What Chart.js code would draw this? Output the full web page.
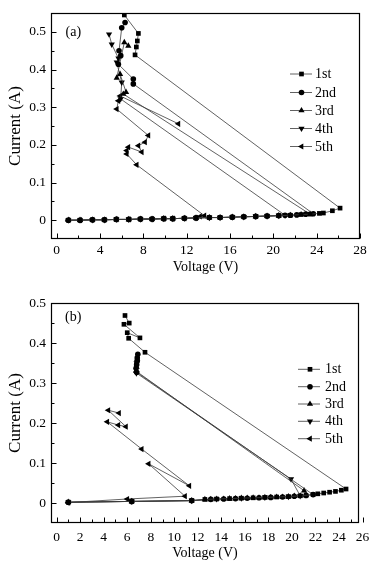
<!DOCTYPE html>
<html><head><meta charset="utf-8">
<script src="https://cdn.jsdelivr.net/npm/chart.js@4.4.1/dist/chart.umd.min.js"></script>
<style>
html,body{margin:0;padding:0;background:#fff;}
#ca{position:absolute;left:0;top:0;}
#cb{position:absolute;left:0;top:290px;}
</style></head><body>
<canvas id="ca" width="379" height="290"></canvas>
<canvas id="cb" width="379" height="279"></canvas>
<script>
// ---------- DATA ----------
const seriesLabels = ['1st', '2nd', '3rd', '4th', '5th'];

// panel (a)
const a1x = [1.07,2.15,3.29,4.40,5.50,6.65,7.72,8.80,9.88,10.71,11.78,12.86,14.09,15.08,16.21,17.27,18.37,19.42,20.50,21.57,22.56,23.39,24.25,24.62,25.45,26.16,7.23,7.35,7.44,7.54,6.24];
const a1y = [0.000,0.000,0.001,0.001,0.002,0.002,0.003,0.003,0.004,0.004,0.005,0.006,0.007,0.007,0.008,0.009,0.010,0.011,0.012,0.013,0.015,0.016,0.018,0.019,0.025,0.032,0.439,0.460,0.476,0.496,0.545];
const a2x = [1.07,2.15,3.29,4.40,5.50,6.65,7.72,8.80,9.88,10.71,11.78,12.86,14.09,15.08,16.21,17.27,18.37,19.42,20.50,21.08,21.57,22.16,22.99,23.69,7.07,7.07,5.69,5.91,5.75,6.00,6.31];
const a2y = [0.000,0.000,0.001,0.001,0.002,0.002,0.003,0.003,0.004,0.004,0.005,0.006,0.007,0.007,0.008,0.009,0.010,0.011,0.012,0.013,0.013,0.014,0.016,0.017,0.362,0.375,0.414,0.437,0.450,0.511,0.525];
const a3x = [1.07,2.15,3.29,4.40,5.50,6.65,7.72,8.80,9.88,10.71,11.78,12.86,14.09,15.08,16.21,17.27,18.37,19.42,20.50,21.57,22.56,23.39,6.15,6.40,5.85,5.54,6.24,6.61];
const a3y = [0.000,0.000,0.001,0.001,0.002,0.002,0.003,0.003,0.004,0.004,0.005,0.006,0.007,0.007,0.008,0.009,0.010,0.011,0.012,0.013,0.015,0.016,0.335,0.340,0.388,0.378,0.472,0.463];
const a4x = [1.07,2.15,3.29,4.40,5.50,6.65,7.72,8.80,9.88,10.71,11.78,12.86,14.09,15.08,16.21,17.27,18.37,19.42,20.50,21.08,5.90,6.00,5.54,5.70,5.08,4.83];
const a4y = [0.000,0.000,0.001,0.001,0.002,0.002,0.003,0.003,0.004,0.004,0.005,0.006,0.007,0.007,0.008,0.009,0.010,0.011,0.012,0.013,0.322,0.366,0.419,0.430,0.467,0.494];
const a5x = [1.07,2.15,3.29,4.40,5.50,6.65,7.72,8.80,9.88,10.71,11.78,12.86,13.23,13.63,7.38,6.46,6.46,6.61,7.85,7.54,8.15,8.46,5.54,5.69,5.85,11.23];
const a5y = [0.000,0.000,0.001,0.001,0.002,0.002,0.003,0.003,0.004,0.004,0.005,0.006,0.010,0.012,0.147,0.176,0.185,0.194,0.181,0.198,0.207,0.225,0.295,0.317,0.330,0.256];
const aXTicks = [0,4,8,12,16,20,24,28];
const aXMinor = [2,6,10,14,18,22,26];
const aYTicks = [0,0.1,0.2,0.3,0.4,0.5];
const aYMinor = [0.05,0.15,0.25,0.35,0.45];

// panel (b)
const b1x = [0.99,6.38,11.48,12.6,13.6,14.7,15.7,16.7,17.7,18.7,19.7,20.7,21.8,22.2,22.7,23.2,23.7,24.2,24.6,7.51,6.12,6.00,7.08,5.72,6.17,5.81];
const b1y = [0.002,0.004,0.006,0.009,0.010,0.011,0.012,0.013,0.014,0.015,0.016,0.018,0.021,0.023,0.025,0.027,0.029,0.032,0.035,0.377,0.412,0.426,0.413,0.447,0.450,0.469];
const b2x = [0.99,6.38,11.48,13.1,14.2,15.2,16.2,17.2,18.2,19.2,20.2,21.2,21.8,6.80,6.75,6.80,6.85,6.85,6.90];
const b2y = [0.002,0.004,0.006,0.009,0.010,0.011,0.012,0.013,0.014,0.015,0.017,0.019,0.021,0.327,0.337,0.346,0.355,0.363,0.372];
const b3x = [0.99,6.38,11.48,12.6,13.1,13.6,14.2,14.7,15.2,15.7,16.2,16.7,17.2,17.7,18.2,18.7,19.2,19.7,20.2,20.7,21.2,21.03,6.75,6.80,6.85];
const b3y = [0.002,0.004,0.006,0.009,0.009,0.010,0.010,0.011,0.011,0.012,0.012,0.013,0.013,0.014,0.014,0.015,0.015,0.016,0.017,0.018,0.019,0.031,0.330,0.340,0.360];
const b4x = [0.99,6.38,11.48,13.6,15.7,17.7,19.7,20.7,19.92,6.78,6.80];
const b4y = [0.002,0.004,0.006,0.010,0.012,0.014,0.016,0.018,0.060,0.325,0.350];
const b5x = [0.99,6.00,10.91,7.82,11.28,7.23,4.30,5.24,5.89,4.39,5.30];
const b5y = [0.001,0.010,0.017,0.098,0.043,0.135,0.203,0.195,0.191,0.232,0.225];
const bXTicks = [0,2,4,6,8,10,12,14,16,18,20,22,24,26];
const bXMinor = [1,3,5,7,9,11,13,15,17,19,21,23,25];
const bYTicks = [0,0.1,0.2,0.3,0.4,0.5];
const bYMinor = [0.05,0.15,0.25,0.35,0.45];

// ---------- STYLE ----------
const FONT = "'Liberation Serif', 'Times New Roman', serif";
const markers = [
  {style:'rect', rot:0, r:3.3},
  {style:'circle', rot:0, r:2.8},
  {style:'triangle', rot:0, r:3.6},
  {style:'triangle', rot:180, r:3.6},
  {style:'triangle', rot:-90, r:3.6}
];
const LINE_COLOR = '#3a3a3a';

function pts(xs, ys){ return xs.map((x,i)=>({x:x, y:ys[i]})); }
function makeDatasets(list){
  return list.map((d,i)=>({
    label: seriesLabels[i],
    data: pts(d[0], d[1]),
    showLine: true,
    borderColor: LINE_COLOR,
    borderWidth: 0.8,
    tension: 0,
    pointStyle: markers[i].style,
    rotation: markers[i].rot,
    pointRotation: markers[i].rot,
    pointRadius: markers[i].r,
    pointBackgroundColor: '#000',
    pointBorderColor: '#000',
    pointBorderWidth: 0
  }));
}

function drawMarker(ctx, m, x, y){
  const r = m.r;
  ctx.beginPath();
  if (m.style === 'circle') {
    ctx.arc(x, y, r, 0, Math.PI*2);
  } else if (m.style === 'rect') {
    const s = r * Math.SQRT1_2;
    ctx.rect(x - s, y - s, 2*s, 2*s);
  } else {
    let rad = m.rot * Math.PI / 180;
    ctx.moveTo(x + Math.sin(rad)*r, y - Math.cos(rad)*r);
    rad += 2*Math.PI/3;
    ctx.lineTo(x + Math.sin(rad)*r, y - Math.cos(rad)*r);
    rad += 2*Math.PI/3;
    ctx.lineTo(x + Math.sin(rad)*r, y - Math.cos(rad)*r);
    ctx.closePath();
  }
  ctx.fill();
}

const framePlugin = {
  id: 'frameTicks',
  afterDraw(chart, args, o){
    const ctx = chart.ctx;
    const a = chart.chartArea;
    const xs = chart.scales.x, ys = chart.scales.y;
    const L = Math.round(a.left) + 0.5, R = Math.round(a.right) - 0.5;
    const T = Math.round(a.top) + 0.5, B = Math.round(a.bottom) - 0.5;
    ctx.save();
    ctx.strokeStyle = '#000';
    ctx.lineWidth = 1.2;
    ctx.strokeRect(L, T, R - L, B - T);
    ctx.lineWidth = 1;
    ctx.beginPath();
    o.xMajor.forEach(v=>{ const p = Math.round(xs.getPixelForValue(v))+0.5; ctx.moveTo(p, B); ctx.lineTo(p, B-5); });
    o.xMinor.forEach(v=>{ const p = Math.round(xs.getPixelForValue(v))+0.5; ctx.moveTo(p, B); ctx.lineTo(p, B-3); });
    o.yMajor.forEach(v=>{ const p = Math.round(ys.getPixelForValue(v))+0.5; ctx.moveTo(L, p); ctx.lineTo(L+5, p); });
    o.yMinor.forEach(v=>{ const p = Math.round(ys.getPixelForValue(v))+0.5; ctx.moveTo(L, p); ctx.lineTo(L+3, p); });
    ctx.stroke();
    // panel label
    ctx.fillStyle = '#000';
    ctx.font = '14px ' + FONT;
    ctx.textBaseline = 'middle';
    ctx.textAlign = 'left';
    ctx.fillText(o.panel, o.panelX, o.panelY);
    // legend
    chart.data.datasets.forEach((ds, i)=>{
      const y = o.legY[i];
      ctx.strokeStyle = LINE_COLOR;
      ctx.lineWidth = 0.8;
      ctx.beginPath();
      ctx.moveTo(o.legX0, y); ctx.lineTo(o.legX1, y);
      ctx.stroke();
      ctx.fillStyle = '#000';
      drawMarker(ctx, markers[i], o.legM, y);
      ctx.fillText(ds.label, o.legT, y + 0.5);
    });
    ctx.restore();
  }
};

function makeChart(id, datasets, cfg){
  return new Chart(document.getElementById(id), {
    type: 'scatter',
    data: { datasets: datasets },
    options: {
      responsive: false,
      animation: false,
      events: [],
      layout: { padding: { left: 0, right: cfg.padRight, top: cfg.padTop, bottom: 0 } },
      plugins: {
        legend: { display: false },
        tooltip: { enabled: false },
        frameTicks: cfg.frame
      },
      scales: {
        x: {
          type: 'linear', min: cfg.xMin, max: cfg.xMax,
          afterBuildTicks: s => { s.ticks = cfg.xTicks.map(v=>({value:v})); },
          afterFit: s => { s.height = cfg.xAxisH; },
          grid: { display: false, drawTicks: false },
          border: { display: false },
          ticks: { padding: cfg.xTickPad, color: '#000', font: { family: FONT, size: 13.5 }, maxRotation: 0, autoSkip: false,
                   callback: v => String(v) },
          title: { display: true, text: 'Voltage (V)', color: '#000', font: { family: FONT, size: 14 },
                   padding: { top: 0, bottom: cfg.xTitlePad } }
        },
        y: {
          type: 'linear', min: cfg.yMin, max: cfg.yMax,
          afterBuildTicks: s => { s.ticks = cfg.yTicks.map(v=>({value:v})); },
          afterFit: s => { s.width = 51; },
          grid: { display: false, drawTicks: false },
          border: { display: false },
          ticks: { padding: 5, color: '#000', font: { family: FONT, size: 13.5 }, autoSkip: false,
                   callback: v => String(+(+v).toFixed(2)) },
          title: { display: true, text: 'Current (A)', color: '#000', font: { family: FONT, size: 17 },
                   padding: { top: 5, bottom: 0 } }
        }
      }
    },
    plugins: [framePlugin]
  });
}

makeChart('ca', makeDatasets([[a1x,a1y],[a2x,a2y],[a3x,a3y],[a4x,a4y],[a5x,a5y]]), {
  padRight: 19, padTop: 13, xAxisH: 51, xTickPad: 3, xTitlePad: 14,
  xMin: -0.53, xMax: 28, yMin: -0.05, yMax: 0.55,
  xTicks: aXTicks, yTicks: aYTicks,
  frame: { xMajor: aXTicks, xMinor: aXMinor, yMajor: aYTicks, yMinor: aYMinor,
           panel: '(a)', panelX: 65.5, panelY: 32,
           legX0: 290, legX1: 312, legM: 301.5, legT: 315, legY: [74, 92.5, 110.5, 128.5, 146.5] }
});

makeChart('cb', makeDatasets([[b1x,b1y],[b2x,b2y],[b3x,b3y],[b4x,b4y],[b5x,b5y]]), {
  padRight: 20, padTop: 9, xAxisH: 46, xTickPad: 6, xTitlePad: 7,
  xMin: -0.48, xMax: 25.7, yMin: -0.05, yMax: 0.5,
  xTicks: bXTicks, yTicks: bYTicks,
  frame: { xMajor: bXTicks, xMinor: bXMinor, yMajor: bYTicks, yMinor: bYMinor,
           panel: '(b)', panelX: 65, panelY: 27,
           legX0: 298, legX1: 320, legM: 310, legT: 325, legY: [79.3, 96.7, 114, 131.3, 148.7] }
});
</script>
</body></html>
